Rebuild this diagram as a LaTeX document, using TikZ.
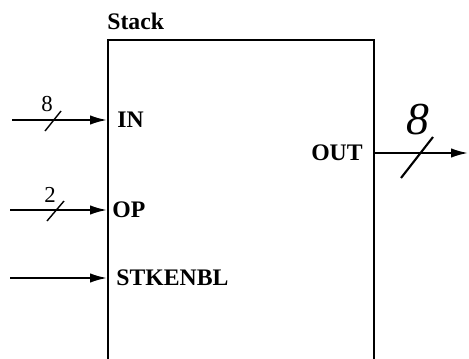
\documentclass[tikz,border=0pt]{standalone}
\usepackage{fontspec}
\setmainfont{Liberation Serif}
\usepackage{tikz}
\usetikzlibrary{arrows.meta,positioning}
\tikzset{
  block/.style={draw=black, line width=1.4pt, fill=white,
                minimum width=5.32cm, minimum height=6.8cm, inner sep=0pt},
  flow/.style={-{Latex[length=3.4mm,width=1.9mm]}, line width=1.1pt},
  tick/.style={black, line width=0.8pt},
  lab/.style={font=\fontsize{13.5}{15}\selectfont\bfseries, inner sep=0pt},
  width/.style={font=\fontsize{13}{15}\selectfont, inner sep=0pt},
  scrawl/.style={font=\fontsize{26}{28}\selectfont\itshape, inner sep=0pt},
}
\begin{document}
\begin{tikzpicture}[x=0.02cm,y=-0.02cm]
  \path[use as bounding box] (0,0) rectangle (469,358);
  \clip (0,0) rectangle (469,358);

  % the stack block runs off the bottom edge
  \node[block, anchor=north west] (stack) at (107,39) {};
  \node[lab, anchor=south west] (title) at (107,30) {Stack};

  % input ports
  \node[lab, anchor=west] (in) at (117,120) {IN};
  \node[lab, anchor=west] (op) at (112,210) {OP};
  \node[lab, anchor=west] (en) at (116,278) {STKENBL};
  \coordinate (inS) at (12,120);
  \coordinate (opS) at (10,210);
  \coordinate (enS) at (10,278);
  \draw[flow] (inS) -- (stack.west |- in.west);
  \draw[flow] (opS) -- (stack.west |- op.west);
  \draw[flow] (enS) -- (stack.west |- en.west);

  % bus widths on the inputs
  \draw[tick] (45,131) -- (61,111);
  \node[width] (inW) at (47,104) {8};
  \draw[tick] (47,221) -- (64,201);
  \node[width] (opW) at (50,195) {2};

  % output port
  \node[lab, anchor=east] (out) at (363,153) {OUT};
  \coordinate (outE) at (468,153);
  \draw[flow] (stack.east |- out.east) -- (outE);
  \draw[tick, line width=1.2pt] (401,178) -- (433,137);
  \node[scrawl] (outW) at (418,120) {8};
\end{tikzpicture}
\end{document}
